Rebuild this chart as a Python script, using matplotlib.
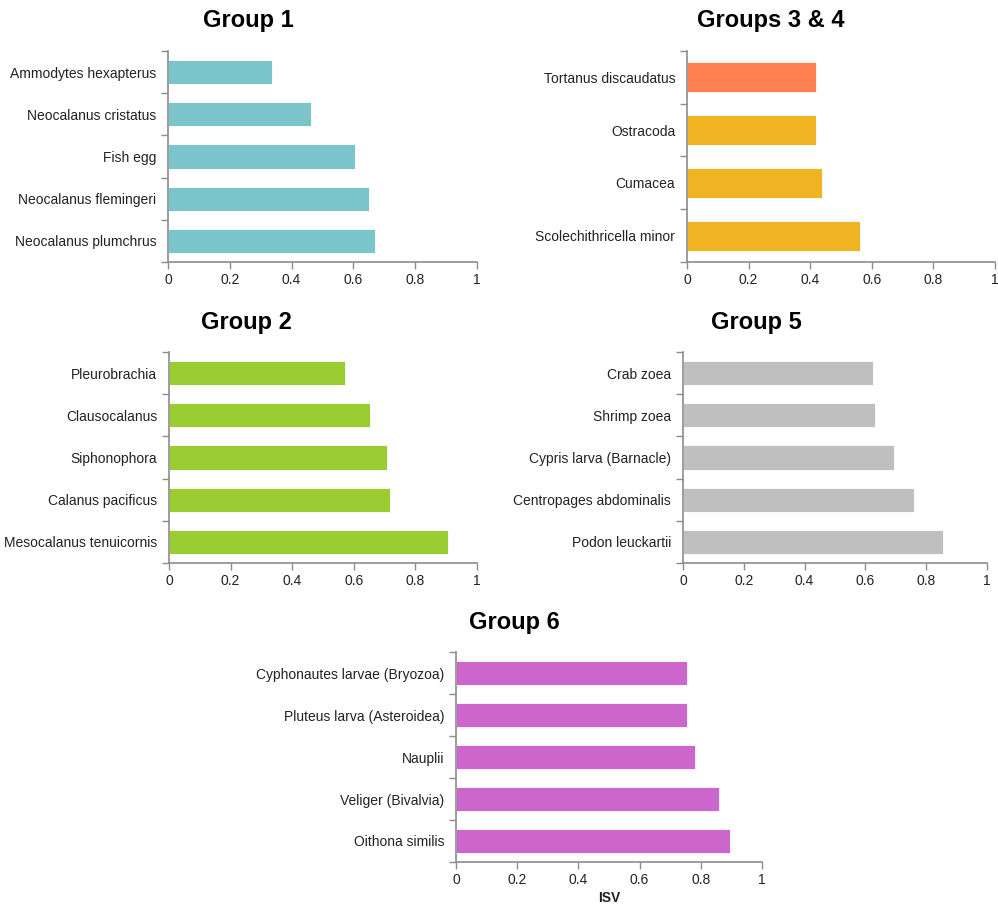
import matplotlib
matplotlib.use("Agg")
import matplotlib.pyplot as plt

plt.rcParams['font.family'] = ['Liberation Sans', 'DejaVu Sans']

W, H = 998, 907

g1_labels = ["Ammodytes hexapterus", "Neocalanus cristatus", "Fish egg",
             "Neocalanus flemingeri", "Neocalanus plumchrus"]
g1_values = [0.337, 0.464, 0.606, 0.650, 0.671]

g34_labels = ["Tortanus discaudatus", "Ostracoda", "Cumacea", "Scolechithricella minor"]
g34_values = [0.418, 0.418, 0.438, 0.561]

g2_labels = ["Pleurobrachia", "Clausocalanus", "Siphonophora", "Calanus pacificus",
             "Mesocalanus tenuicornis"]
g2_values = [0.573, 0.654, 0.709, 0.719, 0.906]

g5_labels = ["Crab zoea", "Shrimp zoea", "Cypris larva (Barnacle)",
             "Centropages abdominalis", "Podon leuckartii"]
g5_values = [0.626, 0.630, 0.695, 0.761, 0.854]

g6_labels = ["Cyphonautes larvae (Bryozoa)", "Pluteus larva (Asteroidea)", "Nauplii",
             "Veliger (Bivalvia)", "Oithona similis"]
g6_values = [0.754, 0.754, 0.782, 0.861, 0.894]

xticks = [0, 0.2, 0.4, 0.6, 0.8, 1]
xtick_labels = ["0", "0.2", "0.4", "0.6", "0.8", "1"]

fig = plt.figure(figsize=(W / 100, H / 100), dpi=100)

AX_COLOR = "#8c8c8c"
TXT_COLOR = "#222222"


def panel(box, labels, values, colors, title, title_xy, xlabel=None):
    l, r, t, b = box
    ax = fig.add_axes([l / W, 1 - b / H, (r - l) / W, (b - t) / H])
    n = len(labels)
    pos = list(range(n))
    ax.barh(pos, values, height=0.57, color=colors, edgecolor="white", linewidth=0.6)
    ax.set_ylim(n - 0.5, -0.5)
    ax.set_xlim(0, 1)
    ax.set_yticks(pos)
    ax.set_yticklabels(labels, fontsize=10, color=TXT_COLOR)
    ax.set_yticks([k - 0.5 for k in range(n + 1)], minor=True)
    ax.tick_params(axis="y", which="major", length=0, pad=8.5)
    ax.tick_params(axis="y", which="minor", length=5, color=AX_COLOR, width=1)
    ax.set_xticks(xticks)
    ax.set_xticklabels(xtick_labels, fontsize=10, color=TXT_COLOR)
    ax.tick_params(axis="x", length=5, color=AX_COLOR, width=1, pad=3)
    for s in ["top", "right"]:
        ax.spines[s].set_visible(False)
    for s in ["left", "bottom"]:
        ax.spines[s].set_color(AX_COLOR)
        ax.spines[s].set_linewidth(1.2)
    if xlabel:
        ax.set_xlabel(xlabel, fontsize=10, fontweight="bold", color=TXT_COLOR, labelpad=3)
    fig.text(title_xy[0] / W, 1 - title_xy[1] / H, title, fontsize=17, fontweight="bold",
             ha="center", va="center", color="black")
    return ax


panel((168, 477, 51, 262), g1_labels, g1_values, ["#7AC4CC"] * 5, "Group 1", (248, 21))
panel((687, 995, 51, 262), g34_labels, g34_values,
      ["#FF7F50", "#F0B323", "#F0B323", "#F0B323"], "Groups 3 & 4", (771, 21))
panel((169, 477, 352, 563), g2_labels, g2_values, ["#9ACD32"] * 5, "Group 2", (246, 323))
panel((683, 987, 352, 563), g5_labels, g5_values, ["#BFBFBF"] * 5, "Group 5", (756, 323))
panel((456, 762, 652, 862), g6_labels, g6_values, ["#CC66CC"] * 5, "Group 6", (514, 623),
      xlabel="ISV")

fig.savefig("out.png", dpi=100)
